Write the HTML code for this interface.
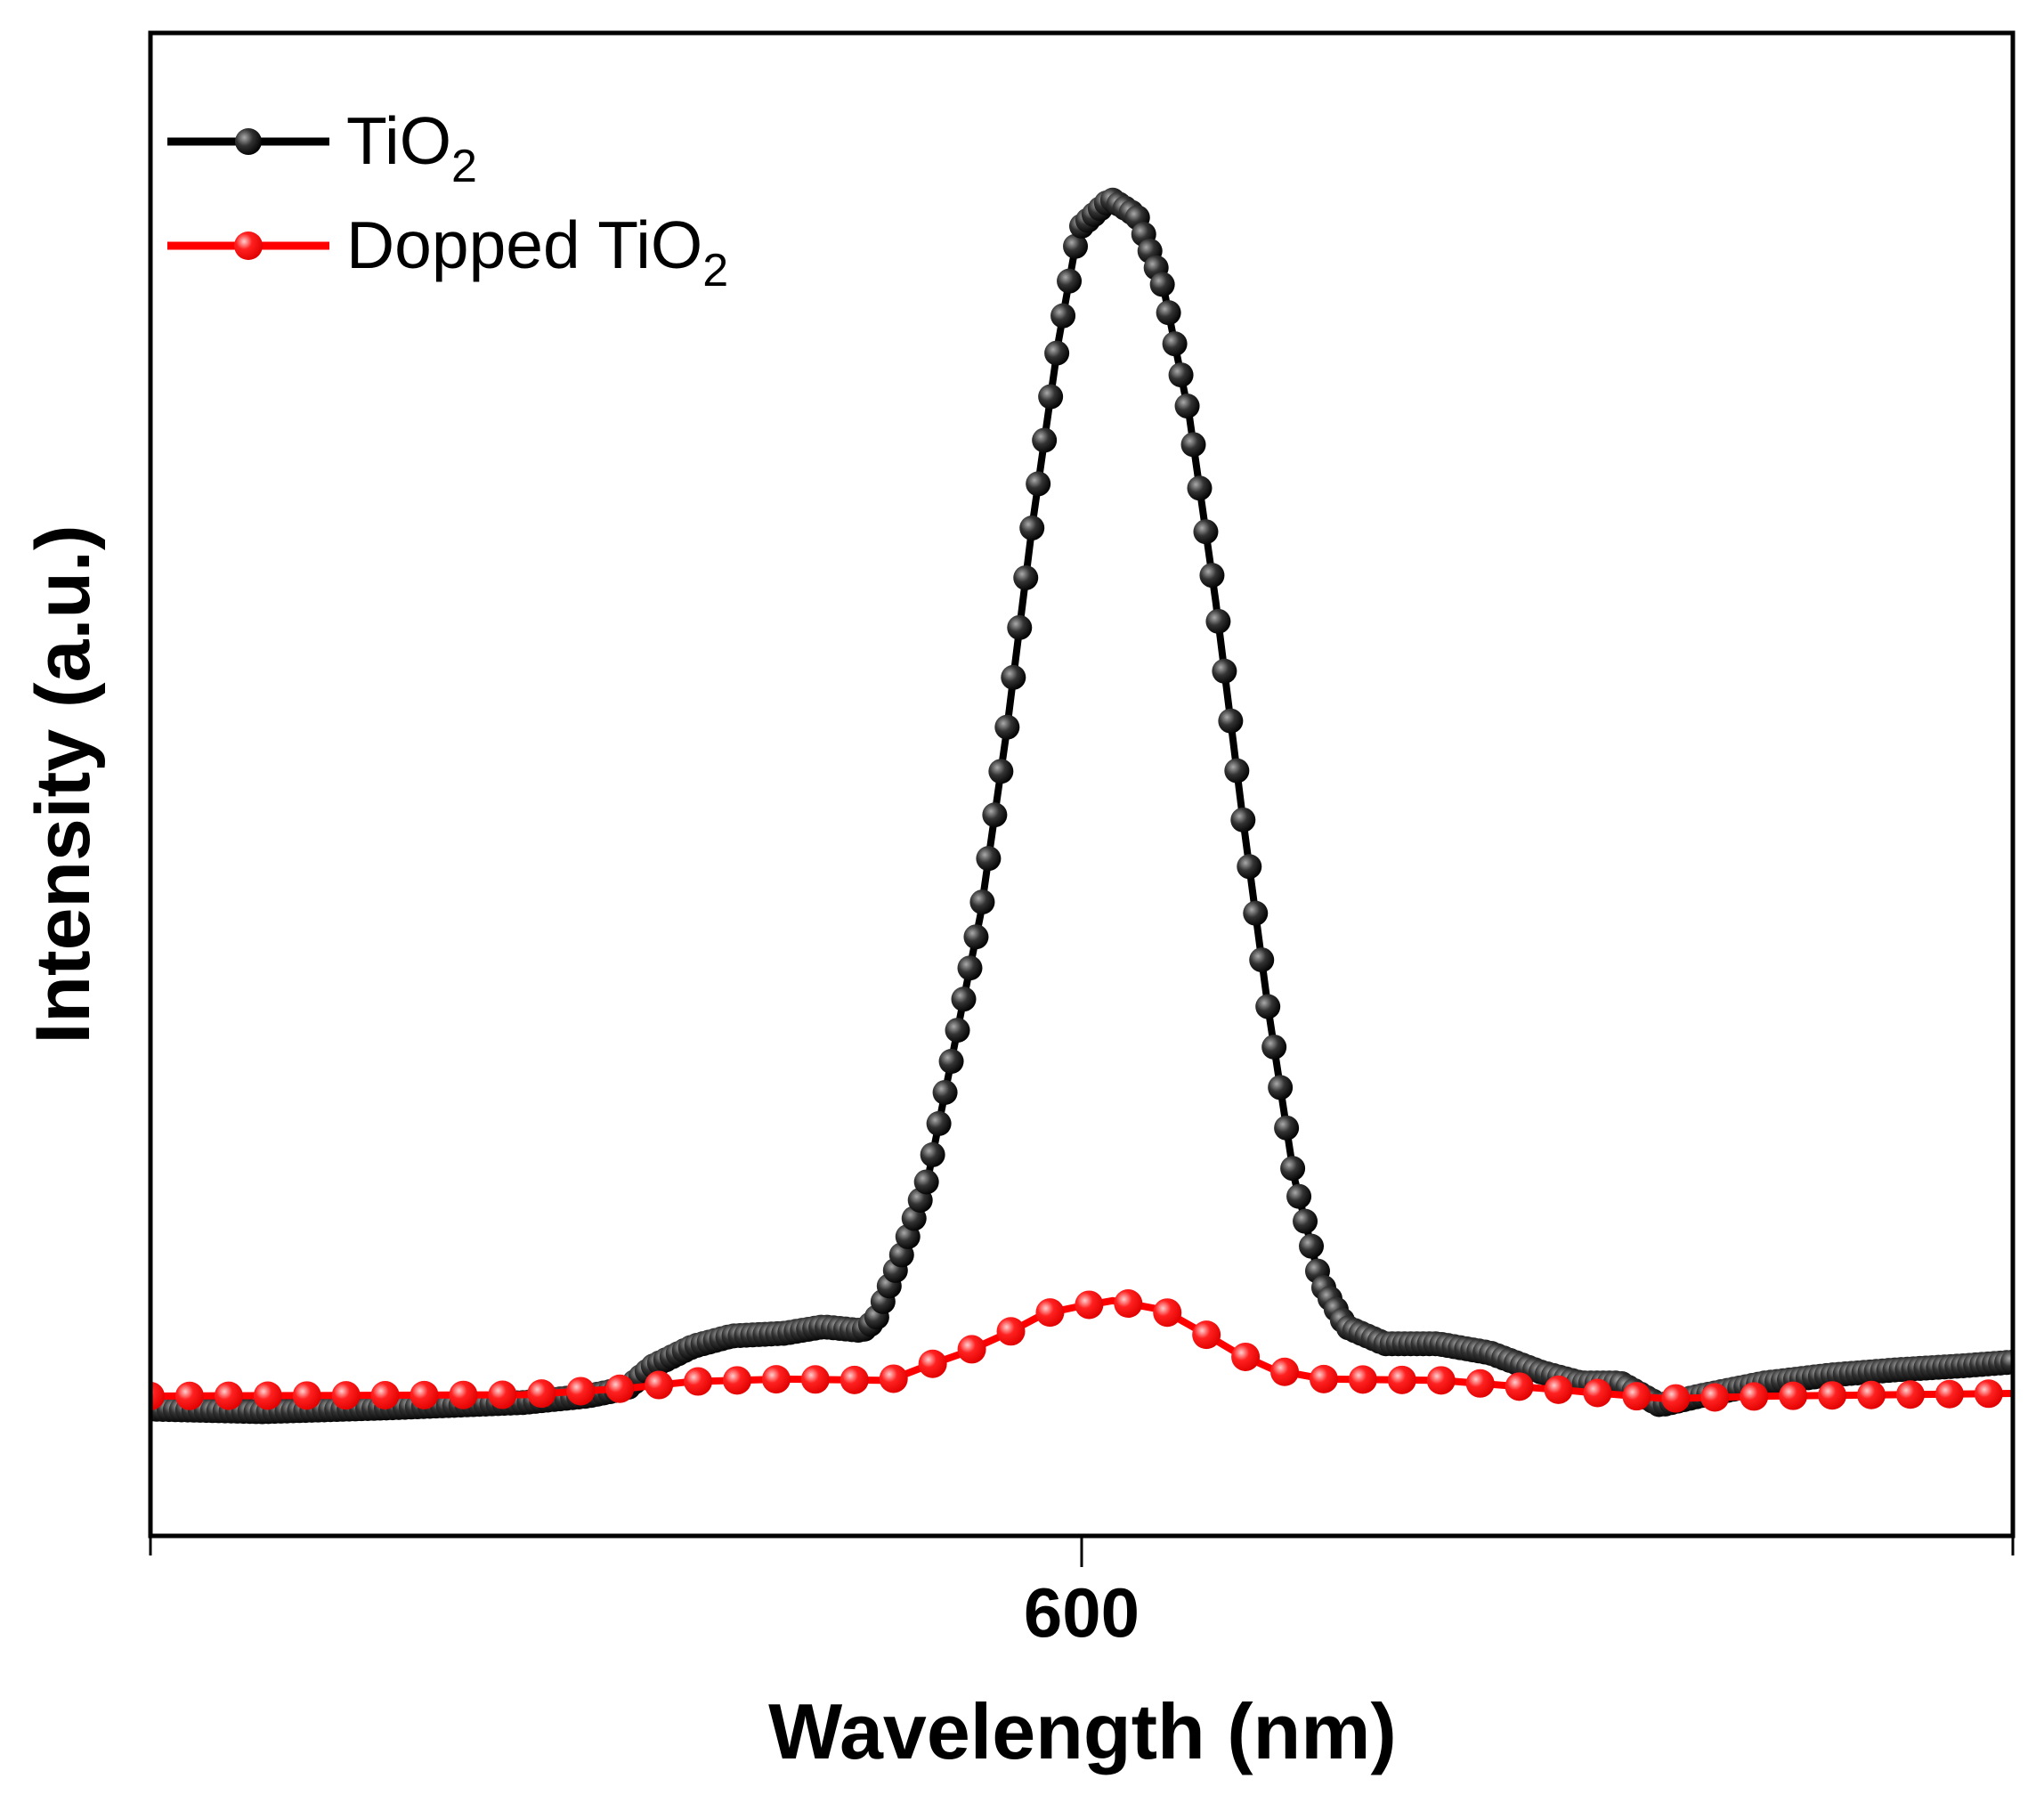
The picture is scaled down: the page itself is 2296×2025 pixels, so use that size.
<!DOCTYPE html>
<html><head><meta charset="utf-8"><style>
html,body{margin:0;padding:0;background:#fff}
svg{display:block}
</style></head><body>
<svg id="chart" width="2296" height="2025" viewBox="0 0 2296 2025" xmlns="http://www.w3.org/2000/svg">
<defs>
<radialGradient id="gBlack" cx="35%" cy="35%" r="70%"><stop offset="0" stop-color="#aaa"/><stop offset="0.45" stop-color="#333"/><stop offset="1" stop-color="#000"/></radialGradient>
<radialGradient id="gRed" cx="35%" cy="35%" r="70%"><stop offset="0" stop-color="#ffd0d0"/><stop offset="0.4" stop-color="#ff2020"/><stop offset="1" stop-color="#e00000"/></radialGradient>
<clipPath id="plotClip"><rect x="169" y="37" width="2092" height="1688"/></clipPath>
</defs>
<g id="series" clip-path="url(#plotClip)"></g>
<rect x="169" y="37" width="2092" height="1688" fill="none" stroke="#000" stroke-width="5"/>
<line x1="169" y1="1725" x2="169" y2="1747" stroke="#000" stroke-width="3"/>
<line x1="2261" y1="1725" x2="2261" y2="1747" stroke="#000" stroke-width="3"/>
<g id="xticks"></g>
<text x="1216" y="1975" text-anchor="middle" font-family="Liberation Sans, sans-serif" font-weight="bold" font-size="88">Wavelength (nm)</text>
<text transform="translate(100,881) rotate(-90)" text-anchor="middle" font-family="Liberation Sans, sans-serif" font-weight="bold" font-size="86">Intensity (a.u.)</text>
<g>
 <g>
  <line x1="188" y1="159" x2="370" y2="159" stroke="#000" stroke-width="9"/>
  <circle cx="279" cy="159" r="15" fill="url(#gBlack)"/>
  <text x="389" y="184" font-family="Liberation Sans, sans-serif" font-size="75">TiO<tspan font-size="52" dy="20">2</tspan></text>
 </g>
 <g>
  <line x1="188" y1="276" x2="370" y2="276" stroke="#ff0000" stroke-width="9"/>
  <circle cx="279" cy="276" r="16" fill="url(#gRed)"/>
  <text x="389" y="301" font-family="Liberation Sans, sans-serif" font-size="75">Dopped TiO<tspan font-size="52" dy="20">2</tspan></text>
 </g>
</g>
</svg>
<script>
const xTicks = [600];
const xTickLabels = ["600"];
const tio2Wavelength = [450,467.9,488.9,510,520.5,526.8,531,537.4,543.7,552.1,558.4,564.7,566.8,571,575.3,579.5,583.7,587.9,592.1,596.3,599.5,604.7,608.9,613.2,617.4,621.6,625.8,630,634.2,638.4,642.6,648.9,657.4,665.8,674.2,680.5,686.8,693.2,699.5,710,720.5,731,741.6,750];
const tio2Intensity = [97,95,98,102,107,113,130,145,153,155,160,157,165,215,275,375,475,615,775,915,1000,1023,1010,955,855,715,555,405,275,195,160,147,147,140,125,117,117,100,107,117,123,127,130,133];
const doppedWavelength = [450,510,527,537,552,569,575,581,588,594,599,605,613,619,625,631,639,658,679,694,711,750];
const doppedIntensity = [107,108,113,118,120,119,130,140,155,170,175,180,173,157,140,127,120,119,111,105,107,109];

const NS = "http://www.w3.org/2000/svg";
const L=169,R=2261,T=37,B=1725;
const xMin=450,xMax=750,yMin=0,yMax=1150;
const xs = v => L + (v-xMin)/(xMax-xMin)*(R-L);
const ys = v => B - (v-yMin)/(yMax-yMin)*(B-T);

function interp(W, I, x){
  for(let i=0;i<W.length-1;i++){
    if(x>=W[i] && x<=W[i+1]){const t=(x-W[i])/((W[i+1]-W[i])||1);return I[i]+t*(I[i+1]-I[i]);}
  }
  return x<W[0]?I[0]:I[I.length-1];
}
const g = document.getElementById('series');
function drawSeries(wl, inten, color, fill, step, r, name){
  const n = Math.min(wl.length, inten.length);
  const w = wl.slice(0,n).map((v,i)=>[v,inten[i]]).sort((a,b)=>a[0]-b[0]);
  const W = w.map(p=>p[0]), I = w.map(p=>p[1]);
  const pl = document.createElementNS(NS,'polyline');
  pl.setAttribute('points', W.map((v,i)=>xs(v)+','+ys(I[i])).join(' '));
  pl.setAttribute('fill','none'); pl.setAttribute('stroke',color); pl.setAttribute('stroke-width','8');
  
  
  g.appendChild(pl);
  for(let x=xMin; x<=xMax+0.01; x+=step){
    const c = document.createElementNS(NS,'circle');
    c.setAttribute('cx', xs(x)); c.setAttribute('cy', ys(interp(W,I,x)));
    c.setAttribute('r', r); c.setAttribute('fill', fill);
    
    
    g.appendChild(c);
  }
}
drawSeries(tio2Wavelength, tio2Intensity, '#000', 'url(#gBlack)', 1.0, 14, 'tio2');
drawSeries(doppedWavelength, doppedIntensity, '#ff0000', 'url(#gRed)', 6.3, 16, 'dopped-tio2');

const xt = document.getElementById('xticks');
xTicks.forEach((v,i)=>{
  const ln = document.createElementNS(NS,'line');
  ln.setAttribute('x1',xs(v)); ln.setAttribute('x2',xs(v)); ln.setAttribute('y1',B); ln.setAttribute('y2',B+35);
  ln.setAttribute('stroke','#000'); ln.setAttribute('stroke-width','3');
  
  
  xt.appendChild(ln);
  const tx = document.createElementNS(NS,'text');
  tx.setAttribute('x',xs(v)); tx.setAttribute('y',1838); tx.setAttribute('text-anchor','middle');
  tx.setAttribute('font-family','Liberation Sans, sans-serif'); tx.setAttribute('font-weight','bold'); tx.setAttribute('font-size','78');
  tx.textContent = xTickLabels[i];
  
  
  xt.appendChild(tx);
});
</script>
</body></html>
